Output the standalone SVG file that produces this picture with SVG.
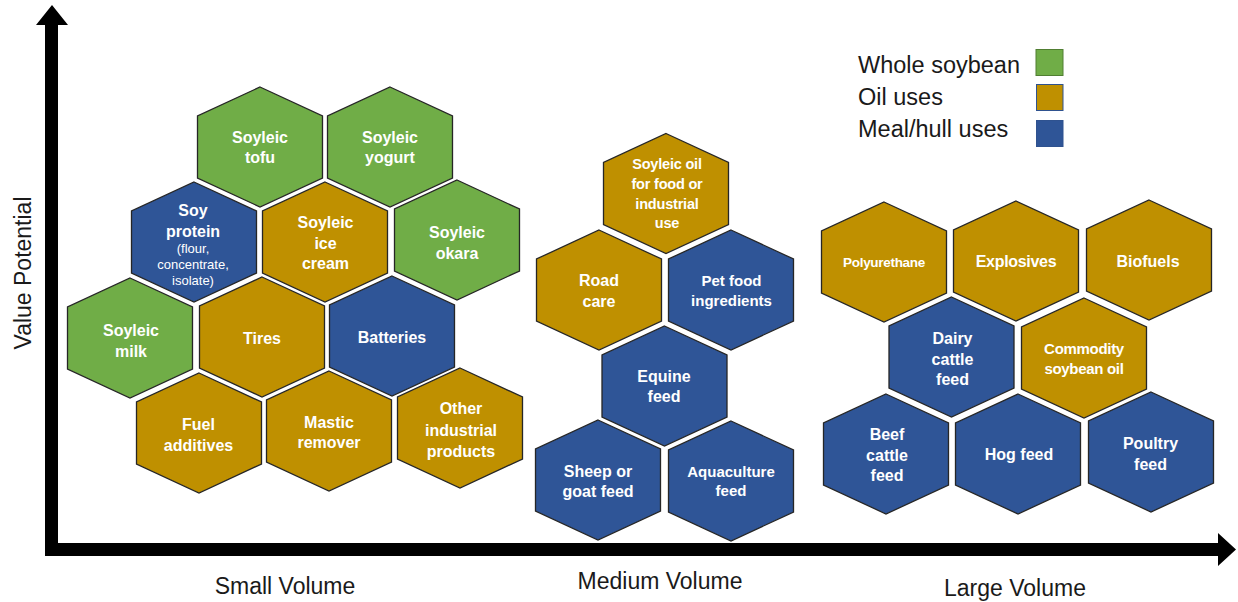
<svg xmlns="http://www.w3.org/2000/svg" xmlns:xlink="http://www.w3.org/1999/xlink" width="1238" height="602" viewBox="0 0 1238 602">
  <defs>
    <style>
      .hex { stroke: #262626; stroke-width: 1.3; stroke-linejoin: miter; }
      .green { fill: #70AD47; }
      .gold { fill: #BF9000; }
      .blue { fill: #2F5597; }
      .lbl { font-family: "Liberation Sans", Arial, sans-serif; font-weight: bold; font-size: 16px; fill: #FFFFFF; text-anchor: middle; }
      .sm { font-size: 15px; }
      .xs { font-size: 14.5px; letter-spacing: -0.2px; }
      .note { font-family: "Liberation Sans", Arial, sans-serif; font-weight: normal; font-size: 13px; fill: #FFFFFF; text-anchor: middle; }
      .axis-label { font-family: "Liberation Sans", Arial, sans-serif; font-size: 23px; fill: #1A1A1A; }
      .legend { font-family: "Liberation Sans", Arial, sans-serif; font-size: 23.5px; fill: #1A1A1A; }
    </style>
    <!-- pointy-top hexagon centred on the origin -->
    <polygon id="hexShape" points="0,-60 62.5,-31 62.5,31 0,60 -62.5,31 -62.5,-31"/>
  </defs>

  <rect width="1238" height="602" fill="#FFFFFF"/>

  <!-- axes -->
  <g id="connectors" fill="#000000">
    <polygon points="45,556 45,25 36,25 52,5 68,25 58,25 58,543 1218,543 1218,533 1236,549.5 1218,566 1218,556"/>
  </g>

  <!-- axis titles -->
  <g id="axis-titles">
    <text class="axis-label" transform="translate(31,273) rotate(-90)" text-anchor="middle">Value Potential</text>
    <text class="axis-label" x="285" y="594" text-anchor="middle">Small Volume</text>
    <text class="axis-label" x="660" y="589" text-anchor="middle">Medium Volume</text>
    <text class="axis-label" x="1015" y="596" text-anchor="middle">Large Volume</text>
  </g>

  <!-- legend -->
  <g id="legend">
    <text class="legend" x="858" y="73">Whole soybean</text>
    <text class="legend" x="858" y="105">Oil uses</text>
    <text class="legend" x="858" y="137">Meal/hull uses</text>
    <rect x="1036" y="49.5" width="27" height="26" fill="#70AD47" stroke="#507E32" stroke-width="1"/>
    <rect x="1036.5" y="84.5" width="26.5" height="26" fill="#BF9000" stroke="#2F528F" stroke-width="1"/>
    <rect x="1036.5" y="120.5" width="26.5" height="26" fill="#2F5597" stroke="#2F528F" stroke-width="1"/>
  </g>

  <!-- small volume cluster -->
  <g id="soyleic-tofu">
    <use xlink:href="#hexShape" x="260" y="147" class="hex green"/>
    <text class="lbl"><tspan x="260" y="142.5">Soyleic</tspan><tspan x="260" y="162.5">tofu</tspan></text>
  </g>
  <g id="soyleic-yogurt">
    <use xlink:href="#hexShape" x="390" y="147" class="hex green"/>
    <text class="lbl"><tspan x="390" y="142.5">Soyleic</tspan><tspan x="390" y="162.5">yogurt</tspan></text>
  </g>
  <g id="soy-protein">
    <use xlink:href="#hexShape" x="194" y="242" class="hex blue"/>
    <text class="lbl"><tspan x="193" y="215.5">Soy</tspan><tspan x="193" y="236.5">protein</tspan></text>
    <text class="note"><tspan x="193" y="252.5">(flour,</tspan><tspan x="193" y="268.5">concentrate,</tspan><tspan x="193" y="284.5">isolate)</tspan></text>
  </g>
  <g id="soyleic-ice-cream">
    <use xlink:href="#hexShape" x="325" y="242" class="hex gold"/>
    <text class="lbl"><tspan x="325.5" y="227.5">Soyleic</tspan><tspan x="325.5" y="248.5">ice</tspan><tspan x="325.5" y="268.5">cream</tspan></text>
  </g>
  <g id="soyleic-okara">
    <use xlink:href="#hexShape" x="457" y="240" class="hex green"/>
    <text class="lbl"><tspan x="457" y="237.5">Soyleic</tspan><tspan x="457" y="258.5">okara</tspan></text>
  </g>
  <g id="soyleic-milk">
    <use xlink:href="#hexShape" x="130" y="338" class="hex green"/>
    <text class="lbl"><tspan x="131" y="335.5">Soyleic</tspan><tspan x="131" y="356.5">milk</tspan></text>
  </g>
  <g id="tires">
    <use xlink:href="#hexShape" x="262" y="337" class="hex gold"/>
    <text class="lbl" x="262" y="343.5">Tires</text>
  </g>
  <g id="batteries">
    <use xlink:href="#hexShape" x="392" y="336" class="hex blue"/>
    <text class="lbl" x="392" y="342.5">Batteries</text>
  </g>
  <g id="fuel-additives">
    <use xlink:href="#hexShape" x="199" y="433" class="hex gold"/>
    <text class="lbl"><tspan x="198.5" y="429.5">Fuel</tspan><tspan x="198.5" y="450.5">additives</tspan></text>
  </g>
  <g id="mastic-remover">
    <use xlink:href="#hexShape" x="329" y="431" class="hex gold"/>
    <text class="lbl"><tspan x="329" y="427.5">Mastic</tspan><tspan x="329" y="447.5">remover</tspan></text>
  </g>
  <g id="other-industrial-products">
    <use xlink:href="#hexShape" x="460" y="428" class="hex gold"/>
    <text class="lbl"><tspan x="461" y="413.5">Other</tspan><tspan x="461" y="435.5">industrial</tspan><tspan x="461" y="456.5">products</tspan></text>
  </g>

  <!-- medium volume cluster -->
  <g id="soyleic-oil">
    <use xlink:href="#hexShape" x="666" y="193.5" class="hex gold"/>
    <text class="lbl xs"><tspan x="667" y="169">Soyleic oil</tspan><tspan x="667" y="189">for food or</tspan><tspan x="667" y="208.5">industrial</tspan><tspan x="667" y="227.5">use</tspan></text>
  </g>
  <g id="road-care">
    <use xlink:href="#hexShape" x="599" y="290" class="hex gold"/>
    <text class="lbl"><tspan x="599" y="285.5">Road</tspan><tspan x="599" y="306.5">care</tspan></text>
  </g>
  <g id="pet-food-ingredients">
    <use xlink:href="#hexShape" x="731" y="290" class="hex blue"/>
    <text class="lbl sm"><tspan x="731.5" y="286">Pet food</tspan><tspan x="731.5" y="305.5">ingredients</tspan></text>
  </g>
  <g id="equine-feed">
    <use xlink:href="#hexShape" x="664.5" y="386" class="hex blue"/>
    <text class="lbl"><tspan x="664" y="381.5">Equine</tspan><tspan x="664" y="401.5">feed</tspan></text>
  </g>
  <g id="sheep-goat-feed">
    <use xlink:href="#hexShape" x="598" y="480" class="hex blue"/>
    <text class="lbl"><tspan x="598" y="476.5">Sheep or</tspan><tspan x="598" y="496.5">goat feed</tspan></text>
  </g>
  <g id="aquaculture-feed">
    <use xlink:href="#hexShape" x="731" y="481" class="hex blue"/>
    <text class="lbl sm"><tspan x="731" y="476.5">Aquaculture</tspan><tspan x="731" y="496">feed</tspan></text>
  </g>

  <!-- large volume cluster -->
  <g id="polyurethane">
    <use xlink:href="#hexShape" x="884" y="262" class="hex gold"/>
    <text class="lbl" style="font-size:13.5px;letter-spacing:-0.3px" x="884" y="266.5">Polyurethane</text>
  </g>
  <g id="explosives">
    <use xlink:href="#hexShape" x="1016" y="261" class="hex gold"/>
    <text class="lbl" style="letter-spacing:-0.3px" x="1016" y="266.5">Explosives</text>
  </g>
  <g id="biofuels">
    <use xlink:href="#hexShape" x="1149" y="260" class="hex gold"/>
    <text class="lbl" x="1148" y="266.5">Biofuels</text>
  </g>
  <g id="dairy-cattle-feed">
    <use xlink:href="#hexShape" x="951.5" y="357" class="hex blue"/>
    <text class="lbl"><tspan x="952.5" y="343.5">Dairy</tspan><tspan x="952.5" y="364.5">cattle</tspan><tspan x="952.5" y="384.5">feed</tspan></text>
  </g>
  <g id="commodity-soybean-oil">
    <use xlink:href="#hexShape" x="1084" y="358" class="hex gold"/>
    <text class="lbl sm" style="letter-spacing:-0.3px"><tspan x="1084" y="353.5">Commodity</tspan><tspan x="1084" y="373.5">soybean oil</tspan></text>
  </g>
  <g id="beef-cattle-feed">
    <use xlink:href="#hexShape" x="886" y="454" class="hex blue"/>
    <text class="lbl"><tspan x="887" y="439.5">Beef</tspan><tspan x="887" y="460.5">cattle</tspan><tspan x="887" y="481">feed</tspan></text>
  </g>
  <g id="hog-feed">
    <use xlink:href="#hexShape" x="1018" y="454" class="hex blue"/>
    <text class="lbl" x="1019" y="459.5">Hog feed</text>
  </g>
  <g id="poultry-feed">
    <use xlink:href="#hexShape" x="1151" y="452" class="hex blue"/>
    <text class="lbl"><tspan x="1150.5" y="448.5">Poultry</tspan><tspan x="1150.5" y="469.5">feed</tspan></text>
  </g>
</svg>
